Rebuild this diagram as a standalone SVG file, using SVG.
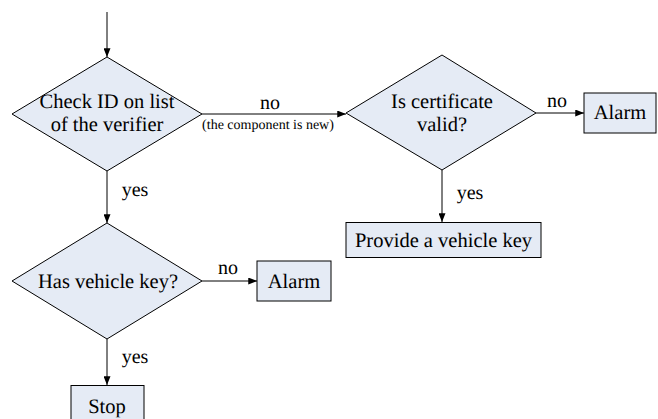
<svg xmlns="http://www.w3.org/2000/svg" width="658" height="419" viewBox="0 0 658 419" font-family="'Times New Roman', 'Liberation Serif', serif" text-rendering="geometricPrecision">
<style>
.shape{fill:#e5ebf5;stroke:#000;stroke-width:1}
text{font-family:'Times New Roman','Liberation Serif', serif;fill:#000;text-anchor:middle}
.t{font-size:20.5px}
.lbl{font-size:20px}
.small{font-size:14px}
.edge{fill:none;stroke:#000;stroke-width:1;marker-end:url(#ah)}
</style>
<defs>
<marker id="ah" viewBox="0 0 10 8" refX="10" refY="4" markerWidth="9" markerHeight="7" markerUnits="userSpaceOnUse" orient="auto">
<path d="M0,0 L10,4 L0,8 Z" fill="#000"/>
</marker>
</defs>
<g id="connectors">
<line class="edge" x1="107" y1="12" x2="107" y2="57"/>
<line class="edge" x1="202" y1="114" x2="346" y2="114"/>
<line class="edge" x1="536" y1="113" x2="584" y2="113"/>
<line class="edge" x1="442" y1="170" x2="442" y2="222"/>
<line class="edge" x1="107" y1="171" x2="107" y2="223"/>
<line class="edge" x1="202" y1="281" x2="257" y2="281"/>
<line class="edge" x1="107" y1="339" x2="107" y2="385"/>
<text class="lbl" x="270" y="109">no</text>
<text class="small" x="268" y="129">(the component is new)</text>
<text class="lbl" x="557" y="107">no</text>
<text class="lbl" x="470" y="199">yes</text>
<text class="lbl" x="135" y="196">yes</text>
<text class="lbl" x="228" y="274">no</text>
<text class="lbl" x="135" y="363">yes</text>
</g>
<g id="check-id">
<polygon class="shape" points="107,57 202,114 107,171 12,114"/>
<text class="t" x="107" y="108">Check ID on list</text>
<text class="t" x="107" y="131">of the verifier</text>
</g>
<g id="is-certificate">
<polygon class="shape" points="442,55 536,113 442,170 346,113"/>
<text class="t" x="442" y="108">Is certificate</text>
<text class="t" x="442" y="131">valid?</text>
</g>
<g id="alarm-1">
<rect class="shape" x="584" y="93" width="72" height="40"/>
<text class="t" x="620" y="119">Alarm</text>
</g>
<g id="provide-key">
<rect class="shape" x="346" y="222.5" width="195" height="35"/>
<text class="t" x="443.5" y="247">Provide a vehicle key</text>
</g>
<g id="has-key">
<polygon class="shape" points="107,223 202,281 107,339 12,281"/>
<text class="t" x="108" y="288">Has vehicle key?</text>
</g>
<g id="alarm-2">
<rect class="shape" x="257" y="261" width="74" height="40"/>
<text class="t" x="294" y="288">Alarm</text>
</g>
<g id="stop">
<rect class="shape" x="71" y="385.5" width="73" height="40"/>
<text class="t" x="107" y="413">Stop</text>
</g>
</svg>
